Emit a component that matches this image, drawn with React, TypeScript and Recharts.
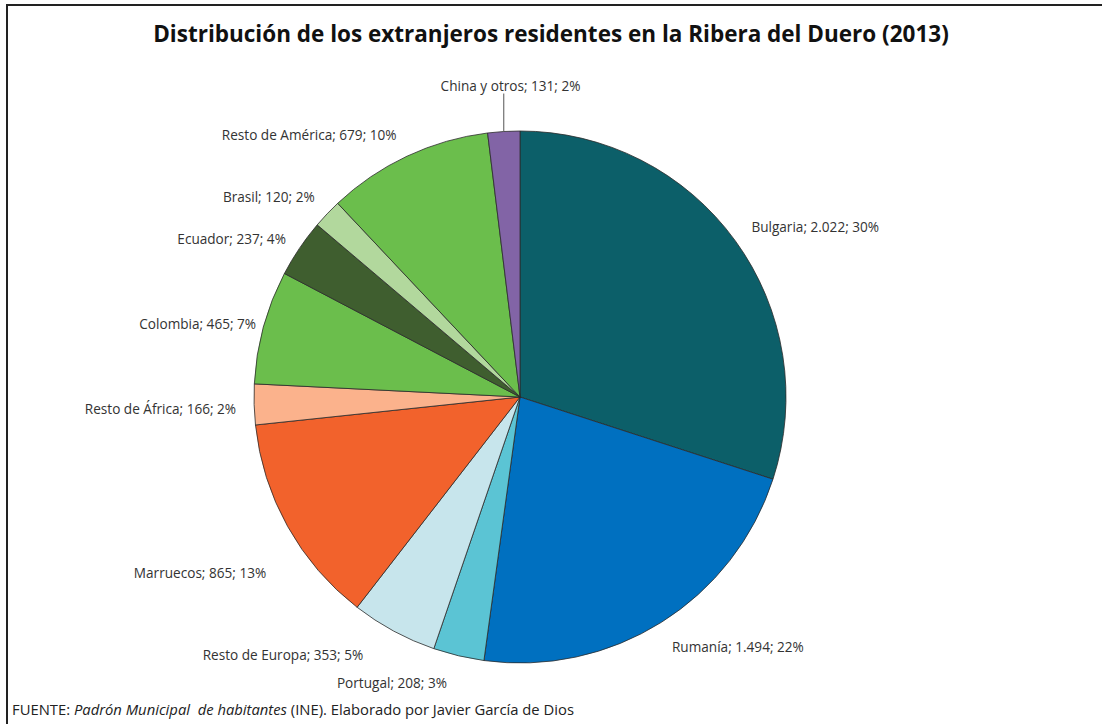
import { PieChart, Pie, Cell } from 'recharts'

const countries = [
  'Bulgaria',
  'Rumanía',
  'Portugal',
  'Resto de Europa',
  'Marruecos',
  'Resto de África',
  'Colombia',
  'Ecuador',
  'Brasil',
  'Resto de América',
  'China y otros',
]
const residents = [2022, 1494, 208, 353, 865, 166, 465, 237, 120, 679, 131]

const sliceColors = [
  '#0C5F69',
  '#0070C0',
  '#5BC4D4',
  '#C7E5EC',
  '#F2622C',
  '#FBB28C',
  '#6BBE4C',
  '#3F5E2F',
  '#B2D89D',
  '#6BBE4C',
  '#8264A6',
]

// Excel pushed some labels away from the plain outside spot
const labelNudge: [number, number][] = [
  [0, 2],
  [0, 1],
  [-62, 0],
  [-21, 0],
  [-4, 33],
  [2, 3],
  [12, 4],
  [3, 5],
  [2, 1],
  [-2, 3],
  [8, -19],
]
const withLeader = ['China y otros']

const total = residents.reduce((a, b) => a + b, 0)
const data = countries.map((name, i) => ({ name, value: residents[i] }))

const RADIAN = Math.PI / 180
const font = '"Open Sans", "Noto Sans", sans-serif'

const thousands = (n: number) => String(n).replace(/\B(?=(\d{3})+(?!\d))/g, '.')

function renderLabel(props: any) {
  const { cx, cy, midAngle, outerRadius, index, name, value } = props
  const c = Math.cos(midAngle * RADIAN)
  const s = Math.sin(midAngle * RADIAN)
  const r = outerRadius + 20
  const [dx, dy] = labelNudge[index] || [0, 0]
  const x = cx + r * c + dx
  const y = cy - r * s - s * 7 + dy
  const anchor = c > 0.3 ? 'start' : c < -0.3 ? 'end' : 'middle'
  const pct = Math.round((value / total) * 100)
  const ex = cx + outerRadius * c
  const ey = cy - outerRadius * s
  return (
    <g key={`lbl-${index}`}>
      {withLeader.includes(name) && (
        <line x1={ex} y1={ey} x2={ex} y2={y + 8} stroke="#555" strokeWidth={1} />
      )}
      <text
        x={x}
        y={y}
        textAnchor={anchor}
        dominantBaseline="central"
        fill="#333"
        fontSize={13.6}
        fontFamily={font}
      >
        {`${name}; ${thousands(value)}; ${pct}%`}
      </text>
    </g>
  )
}

export default function App() {
  return (
    <div
      style={{
        position: 'absolute',
        left: 0,
        top: 0,
        width: 1102,
        height: 724,
        background: '#fff',
        overflow: 'hidden',
      }}
    >
      <div style={{ position: 'absolute', left: 6, top: 4, right: 0, height: 2, background: '#222' }} />
      <div style={{ position: 'absolute', left: 6, top: 4, bottom: 0, width: 2, background: '#222' }} />
      <div
        style={{
          position: 'absolute',
          left: 0,
          width: 1102,
          top: 18,
          lineHeight: '32px',
          textAlign: 'center',
          fontFamily: font,
          fontWeight: 700,
          fontSize: 22.5,
          color: '#111',
        }}
      >
        Distribución de los extranjeros residentes en la Ribera del Duero (2013)
      </div>
      <PieChart
        width={1102}
        height={724}
        margin={{ top: 0, right: 0, bottom: 0, left: 0 }}
        style={{ position: 'absolute', left: 0, top: 0 }}
      >
        <Pie
          data={data}
          dataKey="value"
          nameKey="name"
          cx={520}
          cy={397}
          outerRadius={266}
          startAngle={90}
          endAngle={-270}
          stroke="#2b2b2b"
          strokeWidth={0.8}
          label={renderLabel}
          labelLine={false}
          isAnimationActive={false}
        >
          {data.map((d, i) => (
            <Cell key={d.name} fill={sliceColors[i]} />
          ))}
        </Pie>
      </PieChart>
      <div
        style={{
          position: 'absolute',
          left: 12,
          top: 699,
          lineHeight: '20px',
          fontFamily: font,
          fontSize: 14.8,
          color: '#222',
          whiteSpace: 'pre',
        }}
      >
        FUENTE: <i>Padrón Municipal  de habitantes</i> (INE). Elaborado por Javier García de Dios
      </div>
    </div>
  )
}
